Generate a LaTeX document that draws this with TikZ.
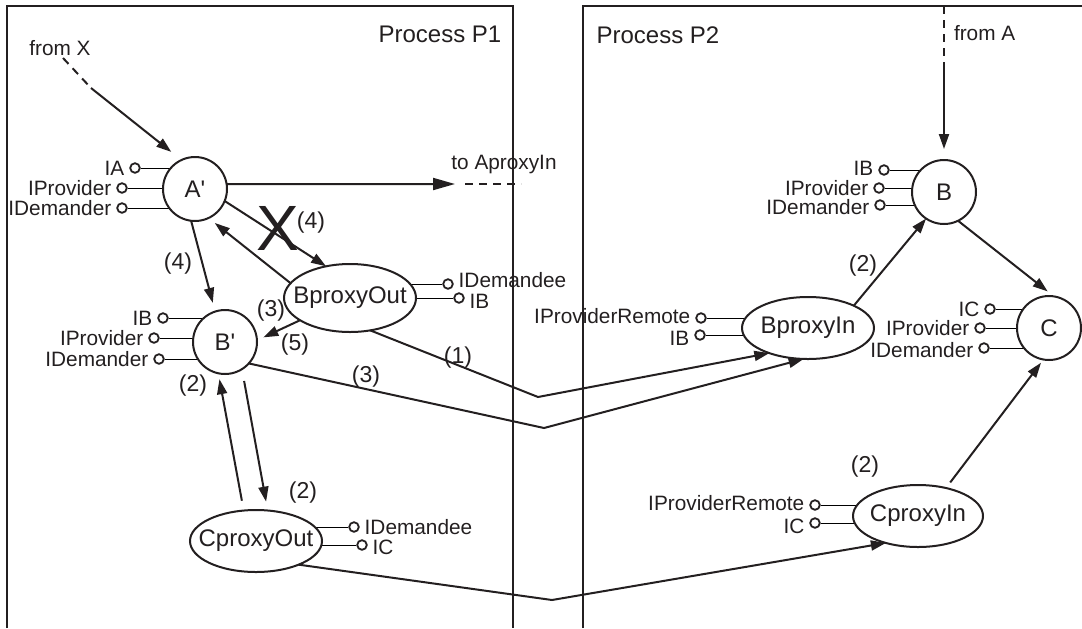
\documentclass[tikz,border=0pt]{standalone}
\usepackage{fontspec}
\setmainfont{Liberation Sans}
\usepackage{xcolor}
\usepackage{tikz}
\usetikzlibrary{arrows.meta, shapes.geometric, backgrounds}
\definecolor{ink}{RGB}{35, 31, 32}
\newcommand{\compfont}{\fontsize{12}{14}\selectfont}

\begin{document}
\begin{tikzpicture}[
    x = 0.5pt, y = -0.5pt, line width=1pt, ink,
    frame/.style = {line width=1.2pt},
    title/.style = {font=\compfont},
    ball/.style  = {draw, circle, fill=white, minimum size=32pt, inner sep=0pt,
                    outer sep=0pt, font=\compfont},
    proxy/.style = {draw, ellipse, fill=white, inner sep=0pt, outer sep=0pt,
                    minimum width=66pt, minimum height=31pt,
                    label={[font=\compfont]center:#1}},
    lolly/.style = {draw, circle, fill=white, minimum size=4.8pt, inner sep=0pt,
                    line width=0.9pt},
    lbl/.style   = {font=\fontsize{10.4}{12}\selectfont, inner xsep=2pt, inner ysep=0pt},
    num/.style   = {font=\fontsize{11.5}{13}\selectfont, inner sep=0pt},
    arr/.style   = {-{Triangle[length=7.5pt, width=5pt]}},
    dsh/.style   = {dash pattern=on 4pt off 3pt},
  ]
  \useasboundingbox (0,0) rectangle (1082,628);

  % the two processes
  \draw[frame] (7,628) -- (7,6) -- (513,6) -- (513,628);
  \draw[frame] (583,628) -- (583,6) -- (1082,6);
  \node[title] (p1) at (440,34) {Process P1};
  \node[title] (p2) at (658,35) {Process P2};

  % components and proxies
  \node[ball] (aa) at (195,189) {A\textquotesingle};
  \node[ball] (bb) at (225,342) {B\textquotesingle};
  \node[ball] (b)  at (944,192) {B};
  \node[ball] (c)  at (1049,328) {C};
  \node[proxy=BproxyOut, minimum height=34pt] (bpo) at (350,298) {};
  \node[proxy=CproxyOut] (cpo) at (256,541) {};
  \node[proxy=BproxyIn]  (bpi) at (808,328) {};
  \node[proxy=CproxyIn, minimum width=65pt] (cpi) at (918,516) {};

  % interfaces
  \node[lolly, label={[lbl]left:IA}]        (aa1) at (135,168) {};
  \node[lolly, label={[lbl]left:IProvider}] (aa2) at (122,188) {};
  \node[lolly, label={[lbl]left:IDemander}] (aa3) at (122,208) {};
  \node[lolly, label={[lbl]left:IB}]        (bb1) at (163,318) {};
  \node[lolly, label={[lbl]left:IProvider}] (bb2) at (154,338) {};
  \node[lolly, label={[lbl]left:IDemander}] (bb3) at (159,359) {};
  \node[lolly, label={[lbl, yshift=1pt]left:IB}] (b1) at (884,170) {};
  \node[lolly, label={[lbl]left:IProvider}] (b2)  at (879,188) {};
  \node[lolly, label={[lbl, yshift=-1pt]left:IDemander}] (b3) at (880,205) {};
  \node[lolly, label={[lbl]left:IC}]        (c1)  at (990,309) {};
  \node[lolly, label={[lbl]left:IProvider}] (c2)  at (980,328) {};
  \node[lolly, label={[lbl, yshift=-1pt]left:IDemander}] (c3) at (984,348) {};
  \node[lolly, label={[lbl, yshift=2pt]right:IDemandee}] (bpo1) at (448,284) {};
  \node[lolly, label={[lbl, yshift=-1.5pt]right:IB}]     (bpo2) at (459,298) {};
  \node[lolly, label={[lbl]right:IDemandee}] (cpo1) at (354,527) {};
  \node[lolly, label={[lbl, yshift=-1pt]right:IC}] (cpo2) at (362,545) {};
  \node[lolly, label={[lbl, yshift=1pt]left:IProviderRemote}] (bpi1) at (701,318) {};
  \node[lolly, label={[lbl, yshift=-1.5pt]left:IB}]          (bpi2) at (700,335) {};
  \node[lolly, label={[lbl, yshift=1pt]left:IProviderRemote}] (cpi1) at (815,505) {};
  \node[lolly, label={[lbl, yshift=-1.5pt]left:IC}]          (cpi2) at (815,523) {};

  \begin{scope}[on background layer]
    \foreach \i/\n in {aa1/aa, aa2/aa, aa3/aa, bb1/bb, bb2/bb, bb3/bb,
                       b1/b, b2/b, b3/b, c1/c, c2/c, c3/c, bpo1/bpo, bpo2/bpo,
                       cpo1/cpo, cpo2/cpo, bpi1/bpi, bpi2/bpi, cpi1/cpi, cpi2/cpi}
      \draw (\i) -- (\i -| \n);
  \end{scope}

  % outside links
  \coordinate (fx0) at (63,58);
  \coordinate (fx1) at (91,88);
  \node[lbl] (fromx) at (60,48) {from X};
  \draw[dsh] (fx0) -- (fx1);
  \draw[arr, shorten >=6.5pt] (fx1) -- (aa.115);

  \coordinate (toap) at (455,184);
  \coordinate (toapx) at (521,184);
  \node[lbl] (toaptxt) at (504,164) {to AproxyIn};
  \draw[-{Triangle[length=11pt, width=6pt]}] (aa.9) -- (toap);
  \draw[dsh, shorten <=5pt] (toap) -- (toapx);

  \coordinate (fa0) at (944,6);
  \coordinate (fa1) at (944,64);
  \node[lbl, anchor=west] (fromatxt) at (949,33) {from A};
  \draw[dsh] (fa0) -- (fa1);
  \draw[arr, shorten >=5.5pt] (fa1) -- (b.north);

  % calls inside P1
  \draw[arr, shorten >=4.5pt] (aa.-97) -- (bb.108);
  \node[num] (n4a) at (178,264) {(4)};
  \draw[arr] (aa.-22) -- (bpo.127);
  \node[font=\fontsize{32}{32}\selectfont, inner sep=0pt] (cross) at (278,228) {X};
  \node[num] (n4b) at (311,223) {(4)};
  \draw[arr, shorten >=4pt] (bpo.166) -- (aa.-65);
  \draw[arr, shorten >=3.5pt] (bpo.204) -- (bb.3);
  \node[num] (n3a) at (271,311) {(3)};
  \node[num] (n5) at (295,345) {(5)};
  \draw[arr, shorten <=5pt, shorten >=3pt] (cpo.112) -- (bb.-102);
  \node[num] (n2a) at (193,386) {(2)};
  \draw[arr, shorten <=6pt, shorten >=4.5pt] (bb.-58) -- (cpo.69);
  \node[num] (n2b) at (303,493) {(2)};

  % calls across the processes
  \coordinate (k1) at (538,397);
  \coordinate (k3) at (544,428);
  \coordinate (k2) at (552,600);
  \draw[arr] (bpo.-58) -- (k1) -- (bpi.213);
  \node[num] (n1) at (458,358) {(1)};
  \draw[arr] (bb.-42) -- (k3) -- (bpi.262);
  \node[num] (n3b) at (366,377) {(3)};
  \draw[arr] (cpo.-29) -- (k2) -- (cpi.220);

  % calls inside P2
  \draw[arr] (bpi.26) -- (b.236);
  \node[num] (n2c) at (863,266) {(2)};
  \draw[arr, shorten >=4pt] (b.-64) -- (c.81);
  \draw[arr, shorten <=3.5pt, shorten >=2pt] (cpi.45) -- (c.-100);
  \node[num] (n2d) at (865,467) {(2)};
\end{tikzpicture}
\end{document}
